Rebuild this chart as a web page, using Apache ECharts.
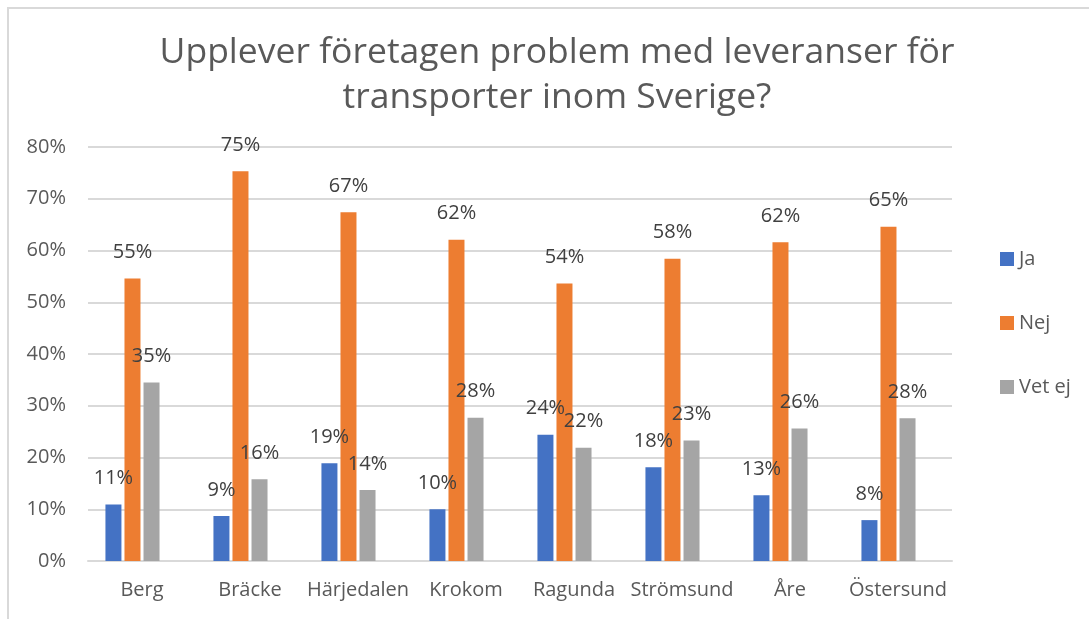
<!DOCTYPE html>
<html>
<head>
<meta charset="utf-8">
<script src="https://cdn.jsdelivr.net/npm/echarts@6/dist/echarts.min.js"></script>
<style>
  html, body { margin: 0; padding: 0; background: #fff; overflow: hidden; }
  #frame { position: absolute; left: 7px; top: 7px; width: 1200px; height: 700px; border: 2px solid #d9d9d9; box-sizing: border-box; }
  #chart { position: absolute; left: 0; top: 0; width: 1089px; height: 619px; }
</style>
</head>
<body>
<div id="frame"></div>
<div id="chart"></div>
<script>
  // kommuner
  const categories = ['Berg', 'Bräcke', 'Härjedalen', 'Krokom', 'Ragunda', 'Strömsund', 'Åre', 'Östersund'];
  // andel i procent
  const ja = [10.9, 8.7, 18.9, 10.0, 24.4, 18.1, 12.7, 7.9];
  const nej = [54.6, 75.3, 67.4, 62.1, 53.6, 58.4, 61.6, 64.6];
  const vetEj = [34.5, 15.8, 13.7, 27.7, 21.9, 23.3, 25.6, 27.6];
  const yTicks = [0, 10, 20, 30, 40, 50, 60, 70, 80];

  const myChart = echarts.init(document.getElementById('chart'), null, { renderer: 'canvas' });
  const font = "'Open Sans', 'Noto Sans', sans-serif";

  const labelStyle = {
    show: true,
    position: 'top',
    distance: 16,
    color: '#404040',
    fontSize: 20,
    fontFamily: font,
    formatter: p => Math.round(p.value) + '%'
  };

  function barSeries(name, data, color) {
    return {
      name: name,
      type: 'bar',
      data: data,
      barWidth: 16,
      barGap: '19%',
      itemStyle: { color: color },
      label: labelStyle
    };
  }

  const option = {
    animation: false,
    backgroundColor: 'transparent',
    title: {
      text: 'Upplever företagen problem med leveranser för\ntransporter inom Sverige?',
      left: 552,
      top: 25,
      textAlign: 'center',
      textStyle: {
        color: '#595959',
        fontSize: 35.5,
        fontWeight: 'normal',
        fontFamily: font,
        lineHeight: 45
      }
    },
    legend: {
      orient: 'vertical',
      left: 995,
      top: 244,
      itemWidth: 14,
      itemHeight: 14,
      itemGap: 44,
      icon: 'rect',
      data: ['Ja', 'Nej', 'Vet ej'],
      textStyle: { color: '#595959', fontSize: 20, fontFamily: font }
    },
    grid: { left: 88, right: 137, top: 147, bottom: 58 },
    xAxis: {
      type: 'category',
      data: categories,
      axisLine: { lineStyle: { color: '#d9d9d9', width: 2 } },
      axisTick: { show: false },
      axisLabel: { color: '#595959', fontSize: 20, fontFamily: font, margin: 19, interval: 0 }
    },
    yAxis: {
      type: 'value',
      min: yTicks[0],
      max: yTicks[yTicks.length - 1],
      interval: 10,
      axisLine: { show: false },
      axisTick: { show: false },
      splitLine: { lineStyle: { color: '#d9d9d9', width: 2 } },
      axisLabel: { color: '#595959', fontSize: 20, fontFamily: font, margin: 22, formatter: '{value}%' }
    },
    series: [
      barSeries('Ja', ja, '#4472C4'),
      barSeries('Nej', nej, '#ED7D31'),
      barSeries('Vet ej', vetEj, '#A5A5A5'),
      // tom plats så att grupperna hamnar lite till vänster som i originalet
      { name: '_pad', type: 'bar', data: [], barWidth: 16, barGap: '19%' }
    ]
  };

  myChart.setOption(option);
  window.addEventListener('resize', function () {
    myChart && myChart.resize();
  });
</script>
</body>
</html>
